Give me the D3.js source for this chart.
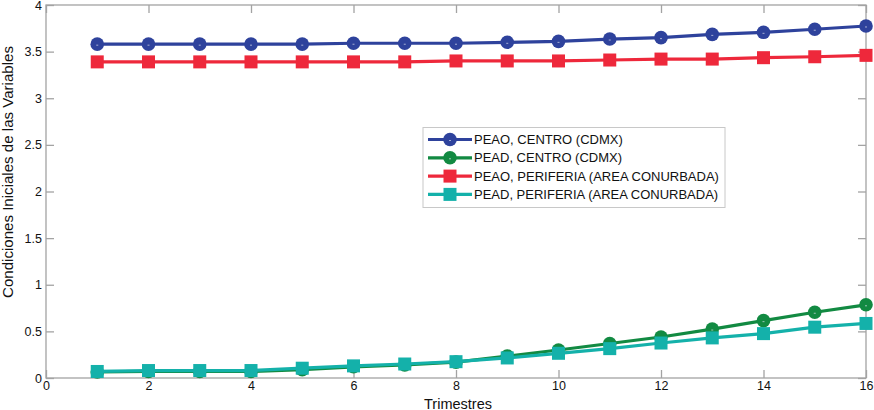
<!DOCTYPE html>
<html>
<head>
<meta charset="utf-8">
<script src="https://cdn.jsdelivr.net/npm/d3@7"></script>
<style>
  html, body { margin: 0; padding: 0; background: #fff; }
  svg { display: block; font-family: "Liberation Sans", Arial, sans-serif; }
</style>
</head>
<body>
<svg id="chart" width="874" height="410"></svg>
<script>
const trimestres = [1,2,3,4,5,6,7,8,9,10,11,12,13,14,15,16];
const peaoCentro = [3.58,3.58,3.58,3.58,3.58,3.59,3.59,3.59,3.60,3.61,3.635,3.65,3.685,3.707,3.74,3.775];
const peadCentro = [0.065,0.07,0.07,0.07,0.09,0.12,0.14,0.17,0.235,0.30,0.37,0.44,0.525,0.615,0.705,0.785];
const peaoPeriferia = [3.39,3.39,3.39,3.39,3.39,3.39,3.39,3.40,3.40,3.40,3.41,3.42,3.42,3.435,3.445,3.46];
const peadPeriferia = [0.07,0.08,0.08,0.08,0.105,0.13,0.15,0.175,0.215,0.265,0.315,0.375,0.43,0.476,0.545,0.585];
const seriesNames = ["PEAO, CENTRO (CDMX)","PEAD, CENTRO (CDMX)","PEAO, PERIFERIA (AREA CONURBADA)","PEAD, PERIFERIA (AREA CONURBADA)"];
const xTicks = [0,2,4,6,8,10,12,14,16];
const yTicks = [0,0.5,1,1.5,2,2.5,3,3.5,4];

const series = [
  {name: seriesNames[0], values: peaoCentro, color: "#2e429c", marker: "circle"},
  {name: seriesNames[1], values: peadCentro, color: "#128a42", marker: "circle"},
  {name: seriesNames[2], values: peaoPeriferia, color: "#ee283b", marker: "square"},
  {name: seriesNames[3], values: peadPeriferia, color: "#14b1aa", marker: "square"}
];

const svg = d3.select("#chart");
const L = 46, R = 866, T = 5, B = 378;
const x = d3.scaleLinear().domain([0,16]).range([L,R]);
const y = d3.scaleLinear().domain([0,4]).range([B,T]);
const axisColor = "#a3a3a3";

// box
svg.append("rect").attr("x",L).attr("y",T).attr("width",R-L).attr("height",B-T)
  .attr("fill","none").attr("stroke",axisColor).attr("stroke-width",1.3);

function styleAxis(g){
  g.select(".domain").remove();
  g.selectAll(".tick line").attr("stroke",axisColor).attr("stroke-width",1.3);
  g.selectAll(".tick text").attr("fill","#111").style("font-size","12.5px")
   .style("font-family","'Liberation Sans', Arial, sans-serif");
}
const fmt = d => String(d);
svg.append("g").attr("transform",`translate(0,${B})`)
  .call(d3.axisBottom(x).tickValues(xTicks).tickFormat(fmt).tickSizeInner(-8).tickSizeOuter(0).tickPadding(3))
  .call(styleAxis);
svg.append("g").attr("transform",`translate(0,${T})`)
  .call(d3.axisTop(x).tickValues(xTicks).tickFormat("").tickSizeInner(-8).tickSizeOuter(0))
  .call(styleAxis);
svg.append("g").attr("transform",`translate(${L},0)`)
  .call(d3.axisLeft(y).tickValues(yTicks).tickFormat(fmt).tickSizeInner(-8).tickSizeOuter(0).tickPadding(4))
  .call(styleAxis);
svg.append("g").attr("transform",`translate(${R},0)`)
  .call(d3.axisRight(y).tickValues(yTicks).tickFormat("").tickSizeInner(-8).tickSizeOuter(0))
  .call(styleAxis);

// labels
svg.append("text").attr("x",458).attr("y",408.5).attr("text-anchor","middle")
  .style("font-size","14.5px").attr("fill","#111").text("Trimestres");
const yl = svg.append("text").attr("transform",`translate(13,172) rotate(-90)`).attr("text-anchor","middle")
  .style("font-size","14px").attr("fill","#111").text("Condiciones Iniciales de las Variables");
const ylLen = yl.node().getComputedTextLength();
if (ylLen > 0) yl.style("font-size", (14 * 252 / ylLen).toFixed(2) + "px");

function drawMarker(g, type, cx, cy, color){
  if (type === "circle") {
    g.append("circle").attr("cx",cx).attr("cy",cy).attr("r",6.8).attr("fill",color);
    g.append("line").attr("x1",cx-1).attr("x2",cx+1).attr("y1",cy+1).attr("y2",cy+1)
      .attr("stroke","#d8dcec").attr("stroke-width",1).attr("opacity",0.7);
  } else {
    g.append("rect").attr("x",cx-6.5).attr("y",cy-6.5).attr("width",13).attr("height",13).attr("fill",color);
  }
}

const line = d3.line().x((d,i)=>x(trimestres[i])).y(d=>y(d));
series.forEach(s => {
  const g = svg.append("g");
  g.append("path").datum(s.values).attr("d",line).attr("fill","none")
    .attr("stroke",s.color).attr("stroke-width",3.2).attr("stroke-linejoin","round");
  s.values.forEach((v,i) => drawMarker(g, s.marker, x(trimestres[i]), y(v), s.color));
});

// legend
const lg = svg.append("g");
lg.append("rect").attr("x",423).attr("y",127.5).attr("width",302).attr("height",80)
  .attr("fill","#fff").attr("stroke","#c8c8c8").attr("stroke-width",1);
series.forEach((s,i) => {
  const yy = 139.5 + i*18.3;
  lg.append("line").attr("x1",428).attr("x2",472).attr("y1",yy).attr("y2",yy)
    .attr("stroke",s.color).attr("stroke-width",3.2);
  drawMarker(lg, s.marker, 450, yy, s.color);
  lg.append("text").attr("x",474).attr("y",yy+4.5).style("font-size","13px").attr("fill","#111").text(s.name);
});
</script>
</body>
</html>
